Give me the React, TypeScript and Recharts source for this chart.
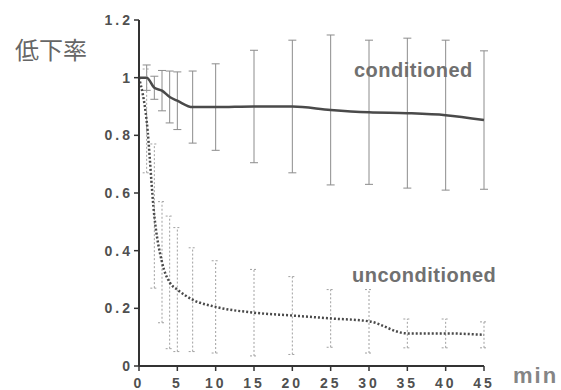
import React from "react";
import { LineChart, Line, XAxis, YAxis, ErrorBar } from "recharts";

const times = [0, 1, 2, 3, 4, 5, 7, 10, 15, 20, 25, 30, 35, 40, 45];
const conditioned = [1.0, 1.0, 0.965, 0.955, 0.933, 0.92, 0.898, 0.898, 0.9, 0.9, 0.888, 0.88, 0.877, 0.87, 0.853];
const conditionedErr = [null, 0.044, 0.04, 0.07, 0.09, 0.1, 0.125, 0.15, 0.195, 0.23, 0.26, 0.25, 0.26, 0.26, 0.24];
const unconditioned = [1.0, 0.85, 0.52, 0.36, 0.29, 0.265, 0.23, 0.205, 0.185, 0.175, 0.165, 0.155, 0.113, 0.113, 0.108];
const unconditionedErr = [null, 0.18, 0.25, 0.21, 0.23, 0.215, 0.18, 0.16, 0.15, 0.135, 0.1, 0.11, 0.05, 0.05, 0.045];

const xTicks = [0, 5, 10, 15, 20, 25, 30, 35, 40, 45];
const yTicks = [0, 0.2, 0.4, 0.6, 0.8, 1, 1.2];

const yLabel = "低下率";
const condLabel = "conditioned";
const uncondLabel = "unconditioned";
const xUnit = "min";

const data = times.map((t, i) => ({
  t,
  cond: conditioned[i],
  condErr: conditionedErr[i],
  uncond: unconditioned[i],
  uncondErr: unconditionedErr[i],
}));

const tickStyle = {
  fill: "#505050",
  fontSize: 14,
  fontWeight: 700,
  fontFamily: "'Liberation Sans', Arial, sans-serif",
  letterSpacing: 3,
};

export default function App() {
  return (
    <div style={{ position: "absolute", left: 0, top: 0, width: 561, height: 390, background: "#fff" }}>
      <LineChart
        width={561}
        height={390}
        data={data}
        margin={{ top: 20, right: 77, bottom: 0, left: 99 }}
      >
        <XAxis
          dataKey="t"
          type="number"
          domain={[0, 45]}
          ticks={xTicks}
          height={24}
          axisLine={{ stroke: "#333", strokeWidth: 2 }}
          tickLine={{ stroke: "#333", strokeWidth: 1.5 }}
          tickSize={5}
          tickMargin={7}
          tick={tickStyle}
          interval={0}
        />
        <YAxis
          type="number"
          domain={[0, 1.2]}
          ticks={yTicks}
          width={40}
          axisLine={{ stroke: "#333", strokeWidth: 2 }}
          tickLine={{ stroke: "#333", strokeWidth: 1.5 }}
          tickSize={5}
          tickMargin={1}
          tick={tickStyle}
          interval={0}
        />
        <Line
          dataKey="cond"
          type="monotone"
          stroke="#4a4a4a"
          strokeWidth={2.5}
          dot={false}
          isAnimationActive={false}
        >
          <ErrorBar dataKey="condErr" direction="y" width={4} stroke="#8c8c8c" strokeWidth={1} />
        </Line>
        <Line
          dataKey="uncond"
          type="monotone"
          stroke="#4a4a4a"
          strokeWidth={2.5}
          strokeDasharray="2 2"
          dot={false}
          isAnimationActive={false}
        >
          <ErrorBar
            dataKey="uncondErr"
            direction="y"
            width={4}
            stroke="#a0a0a0"
            strokeWidth={1}
            strokeDasharray="2 2"
          />
        </Line>
      </LineChart>
      <svg
        width={561}
        height={390}
        style={{ position: "absolute", left: 0, top: 0, pointerEvents: "none" }}
      >
        <text
          x={51}
          y={59}
          textAnchor="middle"
          fontSize={24}
          fill="#666"
          fontFamily="'Noto Sans CJK JP', sans-serif"
        >
          {yLabel}
        </text>
        <text
          x={354}
          y={77}
          fontSize={20}
          fontWeight={700}
          fill="#707070"
          letterSpacing={0.5}
          fontFamily="'Liberation Sans', Arial, sans-serif"
        >
          {condLabel}
        </text>
        <text
          x={352}
          y={282}
          fontSize={20}
          fontWeight={700}
          fill="#707070"
          letterSpacing={0.5}
          fontFamily="'Liberation Sans', Arial, sans-serif"
        >
          {uncondLabel}
        </text>
        <text
          x={513}
          y={383}
          fontSize={22}
          fontWeight={700}
          fill="#858585"
          letterSpacing={2}
          fontFamily="'Liberation Sans', Arial, sans-serif"
        >
          {xUnit}
        </text>
      </svg>
    </div>
  );
}
